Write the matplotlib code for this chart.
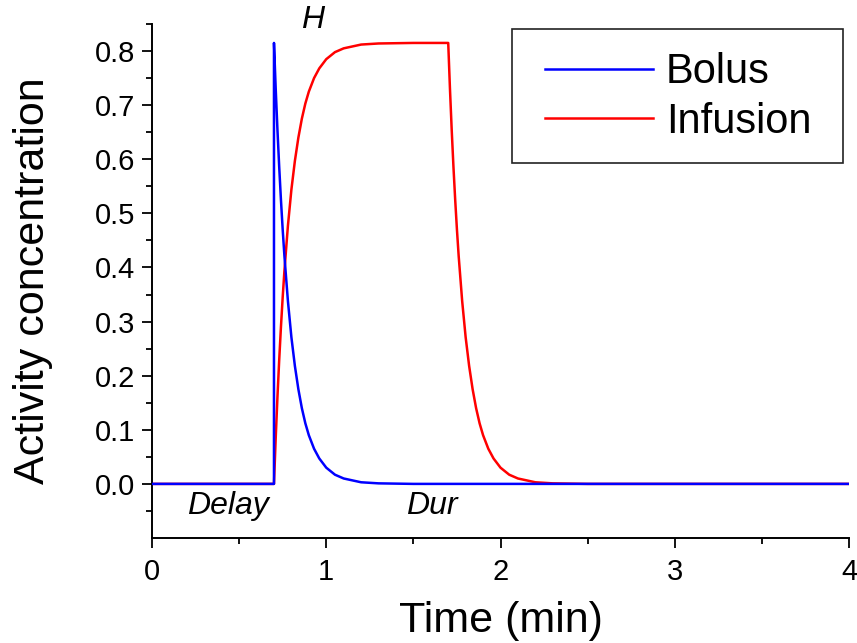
import matplotlib
matplotlib.use("Agg")
import matplotlib.pyplot as plt
from matplotlib.ticker import MultipleLocator, FixedLocator
from matplotlib.patches import Rectangle

plt.rcParams['font.family'] = ['Liberation Sans', 'DejaVu Sans']

# Bolus curve (time in min, activity concentration)
bolus_t = [0.0, 0.70, 0.70, 0.71, 0.72, 0.73, 0.74, 0.75, 0.76, 0.78, 0.80, 0.82, 0.84,
           0.86, 0.88, 0.90, 0.93, 0.96, 1.00, 1.05, 1.10, 1.20, 1.30, 1.50, 4.00]
bolus_v = [0.0, 0.0, 0.815, 0.730, 0.654, 0.586, 0.525, 0.470, 0.421, 0.338, 0.271, 0.218,
           0.175, 0.140, 0.112, 0.090, 0.065, 0.047, 0.030, 0.017, 0.010, 0.003, 0.001, 0.0, 0.0]

# Infusion curve
inf_t = [0.0, 0.70, 0.71, 0.72, 0.73, 0.74, 0.75, 0.76, 0.78, 0.80, 0.82, 0.84, 0.86,
         0.88, 0.90, 0.93, 0.96, 1.00, 1.05, 1.10, 1.20, 1.30, 1.50, 1.70,
         1.71, 1.72, 1.73, 1.74, 1.75, 1.76, 1.78, 1.80, 1.82, 1.84, 1.86, 1.88, 1.90,
         1.93, 1.96, 2.00, 2.05, 2.10, 2.20, 2.30, 2.50, 4.00]
inf_v = [0.0, 0.0, 0.085, 0.161, 0.229, 0.290, 0.345, 0.394, 0.477, 0.544, 0.597, 0.640,
         0.675, 0.703, 0.725, 0.750, 0.768, 0.785, 0.798, 0.805, 0.812, 0.814, 0.815, 0.815,
         0.730, 0.654, 0.586, 0.525, 0.470, 0.421, 0.338, 0.271, 0.218, 0.175, 0.140, 0.112,
         0.090, 0.065, 0.047, 0.030, 0.017, 0.010, 0.003, 0.001, 0.0, 0.0]

series_labels = ["Bolus", "Infusion"]
x_ticks = [0, 1, 2, 3, 4]
y_ticks = [0.0, 0.1, 0.2, 0.3, 0.4, 0.5, 0.6, 0.7, 0.8]

W, H = 857, 643
fig = plt.figure(figsize=(8.57, 6.43), dpi=100)
ax = fig.add_axes([152/W, 1-538/H, (849-152)/W, (538-24)/H])

l_inf, = ax.plot(inf_t, inf_v, color='#ff0000', lw=1.8, zorder=2)
l_bol, = ax.plot(bolus_t, bolus_v, color='#0000ff', lw=1.8, zorder=3)

ax.set_xlim(0, 4)
ax.set_ylim(-0.1, 0.85)
for s in ['top', 'right']:
    ax.spines[s].set_visible(False)
for s in ['left', 'bottom']:
    ax.spines[s].set_linewidth(1.4)

ax.xaxis.set_major_locator(FixedLocator(x_ticks))
ax.xaxis.set_minor_locator(MultipleLocator(0.5))
ax.yaxis.set_major_locator(FixedLocator(y_ticks))
ax.yaxis.set_minor_locator(FixedLocator([-0.05 + 0.1 * i for i in range(10)]))
ax.set_xticklabels([str(v) for v in x_ticks])
ax.set_yticklabels([f"{v:.1f}" for v in y_ticks])
ax.tick_params(which='major', direction='out', length=7.2, width=1.3, labelsize=21, pad=5)
ax.tick_params(which='minor', direction='out', length=4, width=1.3)
ax.tick_params(axis='x', pad=7)

ax.set_xlabel("Time (min)", fontsize=31, labelpad=11)
ax.set_ylabel("Activity concentration", fontsize=31, labelpad=30)

ax.text(0.92, 0.858, "H", fontsize=23, style='italic', ha='center', va='center', clip_on=False)
ax.text(0.435, -0.04, "Delay", fontsize=23, style='italic', ha='center', va='center')
ax.text(1.605, -0.04, "Dur", fontsize=23, style='italic', ha='center', va='center')

# legend frame drawn as a plain rectangle, legend entries placed inside it
ax.add_patch(Rectangle((512/W, 1-163/H), 331/W, 134/H, transform=fig.transFigure,
                       facecolor='white', edgecolor='#222222', lw=1.2, zorder=4,
                       clip_on=False))
leg = ax.legend([l_bol, l_inf], series_labels, loc='center left',
                bbox_to_anchor=(545/W, 1-97/H), bbox_transform=fig.transFigure,
                fontsize=30, frameon=False, handlelength=2.6, handletextpad=0.3,
                labelspacing=0.22, borderpad=0.0, borderaxespad=0)
leg.set_zorder(5)

fig.savefig("out.png", dpi=100)
